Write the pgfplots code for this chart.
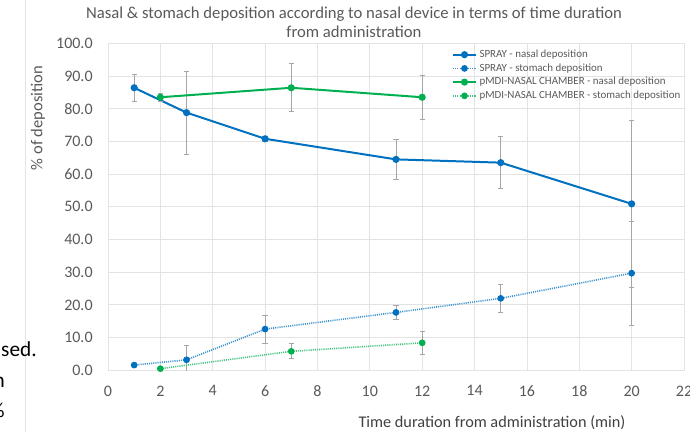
\documentclass[border=0pt]{standalone}
\usepackage{fontspec}
\setmainfont{Carlito}
\usepackage{pgfplots}
\pgfplotsset{compat=1.18}
\definecolor{sblue}{HTML}{0070C0}
\definecolor{sgreen}{HTML}{00B050}
\definecolor{txt}{HTML}{595959}
\definecolor{txtd}{HTML}{404040}
\definecolor{gridc}{HTML}{E3E3E3}
\definecolor{errc}{HTML}{A6A6A6}

\pgfplotstableread{
x y e
1 86.4 4.2
3 78.8 12.7
6 70.8 0.7
11 64.5 6.0
15 63.5 7.9
20 50.9 25.4
}\spraynasal
\pgfplotstableread{
x y e
1 1.6 0.0
3 3.2 4.3
6 12.6 4.3
11 17.7 2.1
15 22.0 4.4
20 29.7 15.9
}\spraystomach
\pgfplotstableread{
x y e
2 83.5 1.3
7 86.4 7.3
12 83.5 6.7
}\pmdinasal
\pgfplotstableread{
x y e
2 0.5 0.0
7 5.8 2.3
12 8.4 3.4
}\pmdistomach

\begin{document}
\begin{tikzpicture}[x=0.75pt,y=0.75pt]
\path[use as bounding box] (0,0) rectangle (690,432);
% screenshot remnants on the left
\draw[gridc, line width=0.6pt] (25.7,0) -- (25.7,432);
\node[anchor=base east, inner sep=0pt, font=\fontsize{16}{19}\selectfont] at (37,{432-357}) {sed.};
\node[anchor=base east, inner sep=0pt, font=\fontsize{16}{19}\selectfont] at (5,{432-388}) {n};
\node[anchor=base east, inner sep=0pt, font=\fontsize{16}{19}\selectfont] at (5,{432-418}) {\%};

\begin{axis}[
  at={(81pt,46.275pt)}, anchor=south west, scale only axis,
  width=432pt, height=245.25pt,
  xmin=0, xmax=22, ymin=0, ymax=100,
  xtick={0,2,...,22}, ytick={0,10,...,100},
  grid=major, grid style={gridc, line width=0.6pt},
  axis line style={gridc, line width=0.6pt},
  major tick length=0pt,
  ticklabel style={font=\fontsize{12}{14}\selectfont, text=txt},
  /pgf/number format/assume math mode=true,
  yticklabel style={/pgf/number format/fixed, /pgf/number format/fixed zerofill, /pgf/number format/precision=1, xshift=-8pt},
  xticklabel style={yshift=-8pt},
  legend style={draw=none, fill=none, at={(0.59,0.997)}, anchor=north west,
    font=\fontsize{8.2}{9.5}\selectfont, text=txt, row sep=-0.9pt},
  legend cell align=left,
  error bars/error bar style={errc, line width=0.6pt, solid},
  error bars/error mark options={errc, rotate=90, mark size=2pt, line width=0.6pt, solid},
]
\addplot[sblue, line width=1.5pt, mark=*, mark size=1.9pt, mark options={solid},
  error bars/.cd, y dir=both, y explicit]
  table[x=x, y=y, y error=e] {\spraynasal};
\addlegendentry{SPRAY - nasal deposition}
\addplot[sblue!75, line width=1.2pt, dash pattern=on 0.8pt off 0.8pt, mark=*, mark size=1.9pt, mark options={solid, fill=sblue, draw=sblue},
  error bars/.cd, y dir=both, y explicit]
  table[x=x, y=y, y error=e] {\spraystomach};
\addlegendentry{SPRAY - stomach deposition}
\addplot[sgreen, line width=1.5pt, mark=*, mark size=1.9pt, mark options={solid},
  error bars/.cd, y dir=both, y explicit]
  table[x=x, y=y, y error=e] {\pmdinasal};
\addlegendentry{pMDI-NASAL CHAMBER - nasal deposition}
\addplot[sgreen!75, line width=1.2pt, dash pattern=on 0.8pt off 0.8pt, mark=*, mark size=1.9pt, mark options={solid, fill=sgreen, draw=sgreen},
  error bars/.cd, y dir=both, y explicit]
  table[x=x, y=y, y error=e] {\pmdistomach};
\addlegendentry{pMDI-NASAL CHAMBER - stomach deposition}
\end{axis}

\node[align=center, text=txt, font=\fontsize{12.5}{14}\selectfont] at (354,{432-22}) {Nasal \& stomach deposition according to nasal device in terms of time duration\\from administration};
\node[rotate=90, text=txt, font=\fontsize{12.4}{14}\selectfont] at (38,{432-118}) {\% of deposition};
\node[text=txtd, font=\fontsize{12.2}{14}\selectfont] at (492,{432-423}) {Time duration from administration (min)};
\end{tikzpicture}
\end{document}
